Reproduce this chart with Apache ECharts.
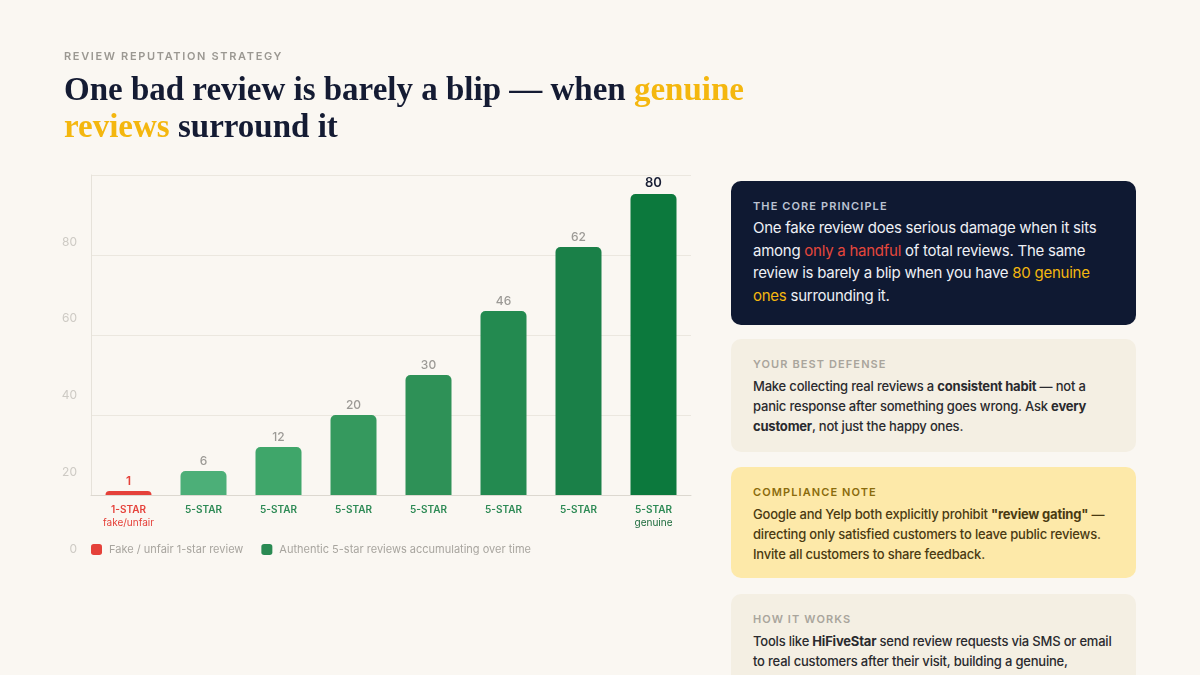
<!DOCTYPE html>
<html>
<head>
<meta charset="utf-8">
<script src="https://cdn.jsdelivr.net/npm/echarts@6/dist/echarts.min.js"></script>
<style>
	html, body {
		margin: 0;
		padding: 0;
		width: 1200px;
		height: 675px;
		overflow: hidden;
		background: #faf7f2;
		font-family: Inter, "Noto Sans", sans-serif;
	}

	#chart {
		position: absolute;
		left: 0;
		top: 0;
		width: 720px;
		height: 600px;
	}

	.kicker {
		position: absolute;
		left: 64px;
		top: 49px;
		font-size: 11px;
		font-weight: 600;
		letter-spacing: 1.65px;
		color: #9b9892;
	}

	.title {
		position: absolute;
		left: 64px;
		top: 71px;
		font-family: "Liberation Serif", "DejaVu Serif", serif;
		font-weight: 700;
		font-size: 33px;
		line-height: 37px;
		color: #141b33;
		white-space: nowrap;
	}

	.gold {
		color: #f4b70f;
	}

	.card {
		position: absolute;
		left: 731px;
		width: 405px;
		border-radius: 10px;
		box-sizing: border-box;
		padding: 0 22px;
		white-space: nowrap;
	}

	.card .label {
		font-size: 11px;
		font-weight: 600;
		letter-spacing: 1.1px;
		margin-top: 18px;
		height: 14px;
		line-height: 14px;
	}

	.card .body {
		font-size: 13px;
		font-weight: 500;
		line-height: 20px;
		letter-spacing: -0.2px;
		margin-top: 5px;
	}

	.core {
		top: 181px;
		height: 144px;
		background: #0f1932;
	}

	.core .label {
		color: #bcc3d2;
	}

	.core .body {
		font-size: 15px;
		font-weight: 400;
		line-height: 22.7px;
		letter-spacing: -0.25px;
		color: #eef0f5;
		margin-top: 4px;
	}

	.defense {
		top: 339px;
		height: 113px;
		background: #f4efe3;
	}

	.defense .label {
		color: #a9a59c;
	}

	.defense .body {
		color: #2a2a2e;
	}

	.comply {
		top: 467px;
		height: 111px;
		background: #fde9a9;
	}

	.comply .label {
		color: #8a6b0c;
	}

	.comply .body {
		color: #4a3a12;
	}

	.how {
		top: 594px;
		height: 120px;
		background: #f4efe3;
	}

	.how .label {
		color: #a9a59c;
	}

	.how .body {
		color: #2a2a2e;
	}

	b {
		font-weight: 700;
	}

	.red {
		color: #e5473c;
	}
</style>
</head>
<body>
<div id="chart"></div>
<div class="kicker">REVIEW REPUTATION STRATEGY</div>
<div class="title">One bad review is barely a blip — when <span class="gold">genuine</span><br><span class="gold">reviews</span> surround it</div>

<div class="card core">
	<div class="label">THE CORE PRINCIPLE</div>
	<div class="body">One fake review does serious damage when it sits<br>among <span class="red">only a handful</span> of total reviews. The same<br>review is barely a blip when you have <span class="gold">80 genuine<br>ones</span> surrounding it.</div>
</div>
<div class="card defense">
	<div class="label">YOUR BEST DEFENSE</div>
	<div class="body">Make collecting real reviews a <b>consistent habit</b> — not a<br>panic response after something goes wrong. Ask <b>every<br>customer</b>, not just the happy ones.</div>
</div>
<div class="card comply">
	<div class="label">COMPLIANCE NOTE</div>
	<div class="body">Google and Yelp both explicitly prohibit <b>"review gating"</b> —<br>directing only satisfied customers to leave public reviews.<br>Invite all customers to share feedback.</div>
</div>
<div class="card how">
	<div class="label">HOW IT WORKS</div>
	<div class="body">Tools like <b>HiFiveStar</b> send review requests via SMS or email<br>to real customers after their visit, building a genuine,</div>
</div>

<script>
	// data
	const categories = ['1-STAR', '5-STAR', '5-STAR', '5-STAR', '5-STAR', '5-STAR', '5-STAR', '5-STAR'];
	const subLabels = ['fake/unfair', '', '', '', '', '', '', 'genuine'];
	const fakeValues = [1, '-', '-', '-', '-', '-', '-', '-'];
	const authenticValues = ['-', 6, 12, 20, 30, 46, 62, 80];
	const yTicks = [0, 20, 40, 60, 80];

	// styles
	const red = '#e5413a';
	const greens = ['', '#4caf78', '#3fa66a', '#35995e', '#2e9157', '#238a50', '#1a8048', '#0c793d'];

	const chart = echarts.init(document.getElementById('chart'));

	const authData = authenticValues.map((v, i) => {
		if (v === '-') return '-';
		let item = { value: v, itemStyle: { color: greens[i] } };
		if (i === authenticValues.length - 1) {
			item.label = { color: '#1a2036', fontWeight: 600, fontSize: 13 };
		}
		return item;
	});

	const option = {
		animation: false,
		textStyle: { fontFamily: 'Inter, "Noto Sans", sans-serif' },
		grid: [
			// bars (top capped a little below the frame)
			{ left: 91, top: 194, width: 600, height: 301 },
			// frame with gridlines
			{ left: 91, top: 175, width: 600, height: 320 },
			// tick labels, drawn offset like the original
			{ left: 91, top: 242, width: 600, height: 307 }
		],
		xAxis: [{
				gridIndex: 0,
				type: 'category',
				data: categories,
				axisLine: { lineStyle: { color: '#dcd8d0' } },
				axisTick: { show: false },
				axisLabel: {
					margin: 8,
					interval: 0,
					lineHeight: 13,
					formatter: (v, i) => {
						let st = i === 0 ? 'r' : 'g';
						let s = '{' + st + '|' + v + '}';
						if (subLabels[i]) s += '\n{' + st + 's|' + subLabels[i] + '}';
						return s;
					},
					rich: {
						r: { color: red, fontSize: 10, fontWeight: 600, letterSpacing: 0.4, lineHeight: 13 },
						rs: { color: red, fontSize: 10, lineHeight: 13 },
						g: { color: '#2d8a55', fontSize: 10, fontWeight: 600, letterSpacing: 0.4, lineHeight: 13 },
						gs: { color: '#1c6b3c', fontSize: 10, lineHeight: 13 }
					}
				}
			},
			{ gridIndex: 1, type: 'category', data: categories, show: false },
			{ gridIndex: 2, type: 'category', data: categories, show: false }
		],
		yAxis: [{
				gridIndex: 0,
				type: 'value',
				min: 0,
				max: 75.25,
				show: false
			},
			{
				gridIndex: 1,
				type: 'value',
				min: 0,
				max: 80,
				interval: 20,
				axisLine: { show: true, lineStyle: { color: '#e6e2da' } },
				axisTick: { show: false },
				axisLabel: { show: false },
				splitLine: { lineStyle: { color: '#ebe7df' } }
			},
			{
				gridIndex: 2,
				type: 'value',
				min: yTicks[0],
				max: yTicks[yTicks.length - 1],
				interval: 20,
				axisLine: { show: false },
				axisTick: { show: false },
				splitLine: { show: false },
				axisLabel: { color: '#cdcac4', fontSize: 12, margin: 14 }
			}
		],
		legend: {
			left: 91,
			top: 544,
			padding: 0,
			itemWidth: 11,
			itemHeight: 11,
			itemGap: 18,
			icon: 'roundRect',
			textStyle: { color: '#a8a59f', fontSize: 11, padding: [0, 0, 0, 2] },
			data: ['Fake / unfair 1-star review', 'Authentic 5-star reviews accumulating over time']
		},
		series: [{
				name: 'Fake / unfair 1-star review',
				type: 'bar',
				xAxisIndex: 0,
				yAxisIndex: 0,
				barWidth: 46,
				barGap: '-100%',
				data: fakeValues,
				itemStyle: { color: red, borderRadius: [5, 5, 0, 0] },
				label: { show: true, position: 'top', distance: 4, color: red, fontSize: 12, fontWeight: 600 }
			},
			{
				name: 'Authentic 5-star reviews accumulating over time',
				type: 'bar',
				xAxisIndex: 0,
				yAxisIndex: 0,
				barWidth: 46,
				barGap: '-100%',
				data: authData,
				itemStyle: { color: '#2a8a53', borderRadius: [5, 5, 0, 0] },
				label: { show: true, position: 'top', distance: 4, color: '#9c9a96', fontSize: 12, fontWeight: 500 }
			},
			// empty series so the frame and label grids get drawn
			{ type: 'bar', xAxisIndex: 1, yAxisIndex: 1, data: [], silent: true },
			{ type: 'bar', xAxisIndex: 2, yAxisIndex: 2, data: [], silent: true }
		]
	};

	chart.setOption(option);
</script>
</body>
</html>
